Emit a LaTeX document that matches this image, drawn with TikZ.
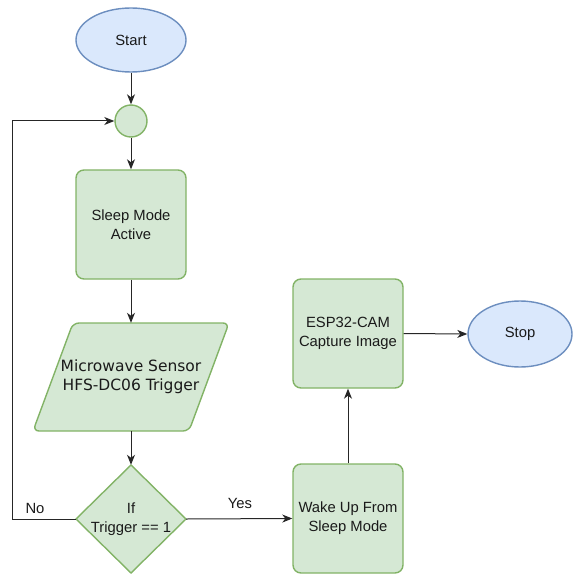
\documentclass[tikz,border=0pt]{standalone}
\usepackage{fontspec}
\setmainfont{Liberation Sans}
\newfontfamily\dejavu{DejaVu Sans}
\usetikzlibrary{arrows.meta,shapes.geometric}
\definecolor{gfill}{HTML}{D5E8D4}
\definecolor{gline}{HTML}{82B366}
\definecolor{bfill}{HTML}{DAE8FC}
\definecolor{bline}{HTML}{6C8EBF}
\definecolor{txt}{HTML}{1A1A1A}
\tikzset{
  terminal/.style={ellipse, draw=bline, fill=bfill, line width=1.4pt, inner sep=0pt, text=txt},
  procbox/.style={rectangle, rounded corners=8pt, draw=gline, fill=gfill, line width=1.4pt, minimum width=110pt, minimum height=109pt, inner sep=0pt, align=center, text=txt},
  ghost/.style={rectangle, draw=none, inner sep=0pt, minimum width=110pt, minimum height=108pt, align=center, text=txt},
  greenshape/.style={draw=gline, fill=gfill, line width=1.4pt},
  conn/.style={draw=black!85, line width=1pt, -{Stealth[length=10pt,width=8pt,inset=3pt]}},
  lbl/.style={text=txt, inner sep=0pt}
}
\begin{document}
\begin{tikzpicture}[x=1pt,y=-1pt,font=\fontsize{14.8}{19}\selectfont]
\useasboundingbox (0,0) rectangle (573,577);
% shapes drawn directly
\draw[greenshape, rounded corners=6pt] (73,323) -- (229,323) -- (189,431) -- (33,431) -- cycle;
\draw[greenshape] (131,465) -- (186,519) -- (131,573) -- (76,519) -- cycle;
% nodes
\node[terminal, minimum width=110pt, minimum height=64pt] (start) at (131,40) {Start};
\node[circle, draw=gline, fill=gfill, line width=1.4pt, minimum size=32pt, inner sep=0pt] (junc) at (131,121) {};
\node[procbox] (sleep) at (131,224.5) {Sleep Mode\\Active};
\node[ghost, font=\dejavu\fontsize{15.5}{19}\selectfont] (mw) at (131,377) {Microwave Sensor\\HFS-DC06 Trigger};
\node[ghost] (dec) at (131,519) {If\\Trigger == 1};
\node[procbox] (wake) at (348,518.5) {Wake Up From\\Sleep Mode};
\node[procbox] (esp) at (348,333.5) {ESP32-CAM\\Capture Image};
\node[terminal, minimum width=104pt, minimum height=66pt] (stop) at (520,334) {Stop};
\coordinate (nocorner) at (12,519);
% connectors
\draw[conn] (start.south) -- (junc.north);
\draw[conn] (junc.south) -- (sleep.north);
\draw[conn] (sleep.south) -- (mw.north);
\draw[conn] (mw.south) -- (dec.north);
\draw[conn] (dec.east) -- (wake.west);
\draw[conn] (dec.west) -- (nocorner) |- (junc.west);
\draw[conn] (wake.north) -- (esp.south);
\draw[conn] (esp.east) -- (stop.west);
% labels
\node[lbl] (yes) at (240,503) {Yes};
\node[lbl] (no) at (35,508) {No};
\end{tikzpicture}
\end{document}
